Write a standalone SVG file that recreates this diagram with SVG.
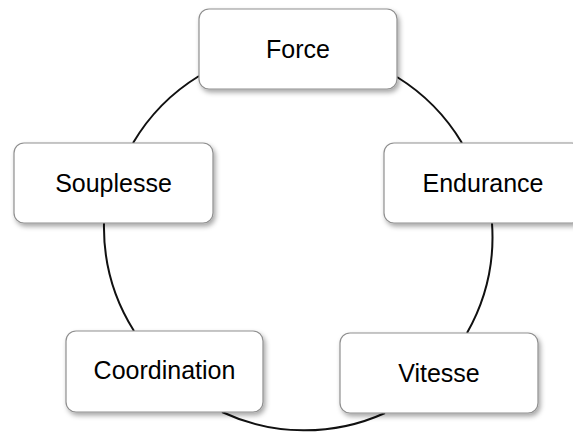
<svg xmlns="http://www.w3.org/2000/svg" width="573" height="432" viewBox="0 0 573 432">
<defs>
<filter id="sh" x="-10%" y="-20%" width="130%" height="150%">
<feDropShadow dx="2" dy="3" stdDeviation="2.5" flood-color="#000" flood-opacity="0.35"/>
</filter>
</defs>
<style>
.box{fill:#fff;stroke:#8f8f8f;stroke-width:1.2;filter:url(#sh)}
.lbl{font-family:"Liberation Sans",Arial,sans-serif;font-size:25px;fill:#000;text-anchor:middle}
.arc{fill:none;stroke:#111;stroke-width:2}
</style>
<rect width="573" height="432" fill="#fff"/>
<g id="connectors">
<path class="arc" d="M397,77 A195,195 0 0 1 462,143"/>
<path class="arc" d="M492,223 A195,195 0 0 1 467,333"/>
<path class="arc" d="M385,413 A195,195 0 0 1 222,412"/>
<path class="arc" d="M134,331 A195,195 0 0 1 104,223"/>
<path class="arc" d="M133,143 A195,195 0 0 1 199,76"/>
</g>
<g id="force">
<rect class="box" x="199" y="9" width="198" height="80" rx="10"/>
<text class="lbl" x="298" y="58">Force</text>
</g>
<g id="endurance">
<rect class="box" x="384" y="143" width="198" height="80" rx="10"/>
<text class="lbl" x="483" y="192">Endurance</text>
</g>
<g id="vitesse">
<rect class="box" x="340" y="333" width="198" height="80" rx="10"/>
<text class="lbl" x="439" y="382">Vitesse</text>
</g>
<g id="coordination">
<rect class="box" x="66" y="331" width="197" height="81" rx="10"/>
<text class="lbl" x="164.5" y="379" font-size="26.5">Coordination</text>
</g>
<g id="souplesse">
<rect class="box" x="14" y="143" width="199" height="80" rx="10"/>
<text class="lbl" x="113.5" y="192">Souplesse</text>
</g>
</svg>
